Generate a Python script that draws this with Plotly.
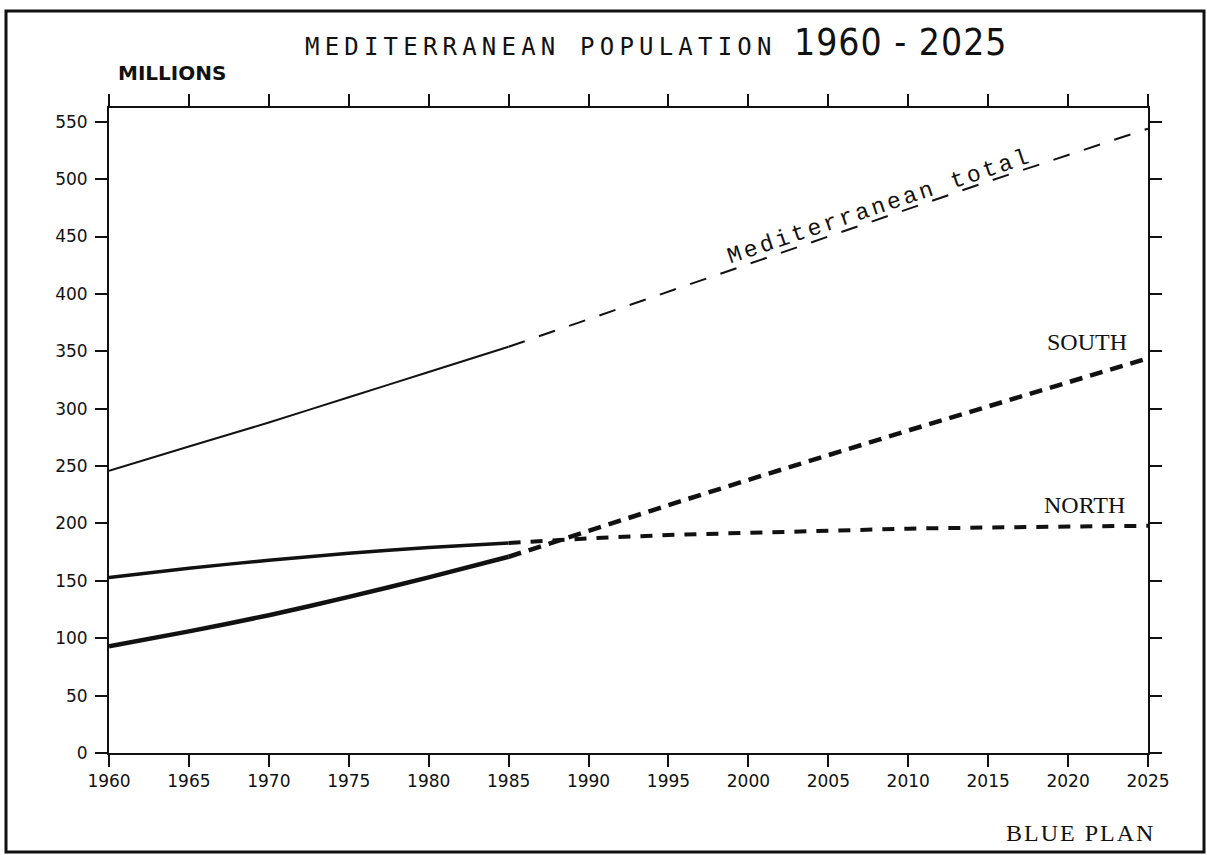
import plotly.graph_objects as go

# ---- data (millions) ----
years_hist = [1960, 1965, 1970, 1975, 1980, 1985]
total_hist = [246, 267, 288, 310, 332, 354]
north_hist = [153, 161, 168, 174, 179, 183]
south_hist = [93, 106, 120, 136, 153, 171]

years_proj = [1985, 1990, 1995, 2000, 2005, 2010, 2015, 2020, 2025]
total_proj = [354, 378, 402, 426, 450, 474, 498, 521, 544]
north_proj = [183, 187, 190, 192, 194, 195.5, 196.5, 197.5, 198]
south_proj = [171, 194, 216, 238, 260, 281, 302, 323, 344]

x_ticks = list(range(1960, 2026, 5))
y_ticks = list(range(0, 551, 50))

INK = "#111111"

fig = go.Figure()

def add(x, y, width, dash=None, shape="linear"):
    fig.add_trace(go.Scatter(
        x=x, y=y, mode="lines", showlegend=False, hoverinfo="skip",
        line=dict(color=INK, width=width, dash=dash, shape=shape,
                  smoothing=0.6 if shape == "spline" else None),
    ))

add(years_hist, total_hist, 2, shape="spline")
add(years_proj, total_proj, 2, dash="17px,15px")
add(years_hist, north_hist, 3.5, shape="spline")
add(years_proj, north_proj, 4, dash="12px,10px")
add(years_hist, south_hist, 4.5, shape="spline")
add(years_proj, south_proj, 4.5, dash="13px,8px")

W, H = 1207, 855
L, R, T, B = 109, 1148, 108, 753  # plot area in pixels


def px(xp):
    return (xp - L) / (R - L)


def py(yp):
    return (B - yp) / (B - T)

tick_font = dict(family="DejaVu Sans, sans-serif", size=17, color=INK)

fig.update_xaxes(
    range=[1960, 2025], tickvals=x_ticks, ticktext=[str(v) for v in x_ticks],
    ticks="outside", ticklen=12, tickwidth=2, tickcolor=INK,
    showline=True, linewidth=2, linecolor=INK, mirror="ticks",
    showgrid=False, zeroline=False, tickfont=tick_font,
)
fig.update_yaxes(
    range=[0, 562], tickvals=y_ticks, ticktext=[str(v) for v in y_ticks],
    ticks="outside", ticklen=12, tickwidth=2, tickcolor=INK,
    showline=True, linewidth=2, linecolor=INK, mirror="ticks",
    showgrid=False, zeroline=False, tickfont=tick_font,
    ticklabelstandoff=4,
)

annotations = [
    dict(text='<span style="letter-spacing:5.2px">MEDITERRANEAN POPULATION</span>',
         x=px(303), y=py(47.5), xref="paper", yref="paper",
         xanchor="left", yanchor="middle", showarrow=False,
         font=dict(family="DejaVu Sans Mono, monospace", size=24, color=INK)),
    dict(text='<span style="letter-spacing:1px">1960 - 2025</span>',
         x=px(792), y=py(42.5), xref="paper", yref="paper",
         xanchor="left", yanchor="middle", showarrow=False,
         font=dict(family="Liberation Sans Narrow, DejaVu Sans Condensed, Arial Narrow, sans-serif",
                   size=37, color=INK)),
    dict(text="<b>MILLIONS</b>",
         x=px(116), y=py(72.5), xref="paper", yref="paper",
         xanchor="left", yanchor="middle", showarrow=False,
         font=dict(family="DejaVu Sans, sans-serif", size=20, color=INK)),
    dict(text='<span style="letter-spacing:3px">Mediterranean total</span>',
         x=2008.2, y=476, xref="x", yref="y", textangle=-18.6,
         xanchor="center", yanchor="middle", showarrow=False,
         font=dict(family="Liberation Mono, monospace", size=23, color=INK)),
    dict(text="SOUTH", x=2021.2, y=358, xref="x", yref="y",
         xanchor="center", yanchor="middle", showarrow=False,
         font=dict(family="Liberation Serif, serif", size=24, color=INK)),
    dict(text="NORTH", x=2021.0, y=216, xref="x", yref="y",
         xanchor="center", yanchor="middle", showarrow=False,
         font=dict(family="Liberation Serif, serif", size=24, color=INK)),
    dict(text='<span style="letter-spacing:2px">BLUE PLAN</span>',
         x=px(1080), y=py(833), xref="paper", yref="paper",
         xanchor="center", yanchor="middle", showarrow=False,
         font=dict(family="Liberation Serif, serif", size=24, color=INK)),
]

shapes = [
    dict(type="rect", xref="paper", yref="paper",
         x0=px(6), x1=px(1204), y0=py(852), y1=py(11),
         line=dict(color=INK, width=3), fillcolor="rgba(0,0,0,0)", layer="above"),
]

fig.update_layout(
    width=W, height=H,
    margin=dict(l=L, r=W - R, t=T, b=H - B, pad=0),
    paper_bgcolor="white", plot_bgcolor="white",
    annotations=annotations, shapes=shapes,
    showlegend=False,
)

fig.write_html(
    "out.html",
    config={"displayModeBar": False, "staticPlot": True},
    post_script="document.body.style.margin='0';document.body.style.overflow='hidden';",
)
